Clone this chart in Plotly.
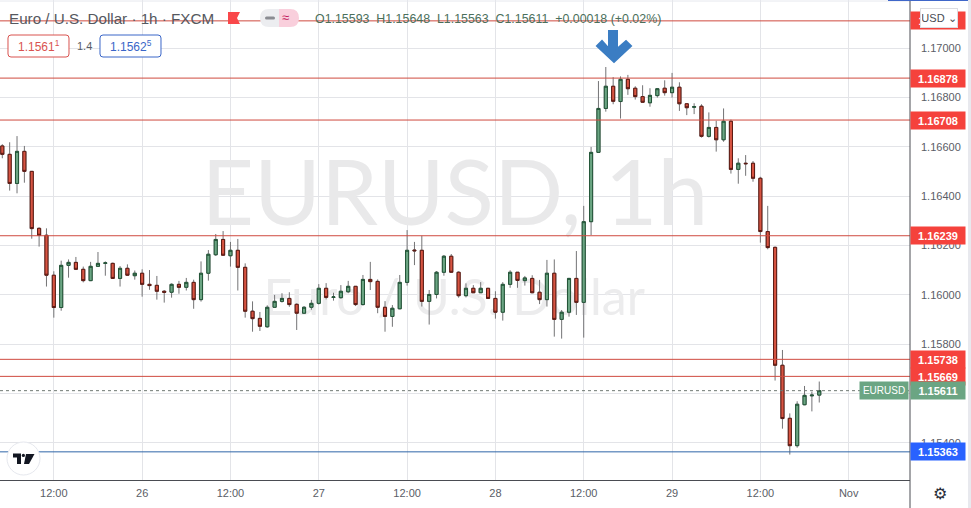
import plotly.graph_objects as go

# hourly EURUSD candles
opens = [
    1.16603, 1.16569, 1.16451, 1.16581, 1.16500, 1.16269, 1.16241, 1.16079, 1.15948, 1.16119,
    1.16131, 1.16103, 1.16057, 1.16115, 1.16127, 1.16127, 1.16066, 1.16107, 1.16077, 1.16087,
    1.16042, 1.16038, 1.16014, 1.16010, 1.16042, 1.16030, 1.16050, 1.15980, 1.16087, 1.16162,
    1.16224, 1.16158, 1.16180, 1.16111, 1.15933, 1.15904, 1.15870, 1.15949, 1.15973, 1.15985,
    1.15961, 1.15925, 1.15949, 1.15965, 1.16026, 1.15989, 1.15988, 1.16012, 1.16034, 1.15960,
    1.16062, 1.16054, 1.15949, 1.15912, 1.15943, 1.16050, 1.16181, 1.16180, 1.15973, 1.16001,
    1.16091, 1.16156, 1.16091, 1.15996, 1.16026, 1.16008, 1.16026, 1.15985, 1.15929, 1.16042,
    1.16091, 1.16057, 1.16066, 1.16010, 1.15980, 1.16087, 1.15900, 1.15929, 1.16066, 1.15969,
    1.16296, 1.16577, 1.16755, 1.16845, 1.16783, 1.16873, 1.16837, 1.16803, 1.16778, 1.16807,
    1.16837, 1.16819, 1.16841, 1.16774, 1.16760, 1.16764, 1.16642, 1.16678, 1.16628, 1.16703,
    1.16508, 1.16533, 1.16533, 1.16472, 1.16256, 1.16192, 1.15714, 1.15499, 1.15388, 1.15554,
    1.15590, 1.15593,
]
highs = [
    1.16610, 1.16618, 1.16643, 1.16603, 1.16500, 1.16273, 1.16269, 1.16095, 1.16138, 1.16143,
    1.16153, 1.16114, 1.16133, 1.16173, 1.16135, 1.16130, 1.16116, 1.16123, 1.16098, 1.16103,
    1.16100, 1.16076, 1.16019, 1.16046, 1.16056, 1.16068, 1.16061, 1.16135, 1.16181, 1.16246,
    1.16258, 1.16214, 1.16226, 1.16127, 1.15973, 1.15930, 1.15957, 1.15999, 1.16006, 1.16010,
    1.15965, 1.15954, 1.15979, 1.16043, 1.16047, 1.16008, 1.16039, 1.16056, 1.16035, 1.16080,
    1.16133, 1.16062, 1.15974, 1.15958, 1.16080, 1.16262, 1.16214, 1.16239, 1.16019, 1.16096,
    1.16161, 1.16165, 1.16095, 1.16046, 1.16039, 1.16051, 1.16027, 1.16014, 1.16051, 1.16099,
    1.16092, 1.16076, 1.16079, 1.16060, 1.16141, 1.16143, 1.15938, 1.16068, 1.16177, 1.16360,
    1.16599, 1.16866, 1.16923, 1.16882, 1.16885, 1.16891, 1.16845, 1.16849, 1.16837, 1.16838,
    1.16869, 1.16899, 1.16861, 1.16777, 1.16776, 1.16772, 1.16739, 1.16705, 1.16755, 1.16710,
    1.16553, 1.16566, 1.16542, 1.16478, 1.16360, 1.16195, 1.15776, 1.15519, 1.15568, 1.15630,
    1.15607, 1.15648,
]
lows = [
    1.16553, 1.16422, 1.16411, 1.16454, 1.16227, 1.16195, 1.16033, 1.15907, 1.15935, 1.16069,
    1.16100, 1.16050, 1.16055, 1.16114, 1.16077, 1.16065, 1.16033, 1.16076, 1.16061, 1.15992,
    1.16020, 1.15980, 1.15968, 1.15988, 1.16004, 1.16017, 1.15943, 1.15972, 1.16057, 1.16157,
    1.16157, 1.16114, 1.16017, 1.15907, 1.15850, 1.15853, 1.15866, 1.15948, 1.15968, 1.15951,
    1.15857, 1.15923, 1.15939, 1.15960, 1.15981, 1.15976, 1.15984, 1.16006, 1.15954, 1.15956,
    1.16019, 1.15925, 1.15850, 1.15870, 1.15941, 1.16037, 1.16120, 1.15952, 1.15879, 1.15985,
    1.16077, 1.16089, 1.15988, 1.15989, 1.16007, 1.16007, 1.15984, 1.15903, 1.15895, 1.16028,
    1.16028, 1.16037, 1.16006, 1.15962, 1.15952, 1.15830, 1.15822, 1.15911, 1.15918, 1.15826,
    1.16242, 1.16577, 1.16742, 1.16772, 1.16714, 1.16810, 1.16791, 1.16778, 1.16762, 1.16799,
    1.16807, 1.16799, 1.16745, 1.16728, 1.16732, 1.16637, 1.16637, 1.16580, 1.16620, 1.16491,
    1.16450, 1.16482, 1.16458, 1.16211, 1.16184, 1.15652, 1.15457, 1.15352, 1.15380, 1.15552,
    1.15527, 1.15563,
]
closes = [
    1.16569, 1.16451, 1.16581, 1.16500, 1.16268, 1.16241, 1.16079, 1.15948, 1.16119, 1.16131,
    1.16103, 1.16057, 1.16115, 1.16127, 1.16129, 1.16066, 1.16107, 1.16079, 1.16087, 1.16042,
    1.16037, 1.16014, 1.16010, 1.16042, 1.16030, 1.16050, 1.15980, 1.16087, 1.16164, 1.16224,
    1.16160, 1.16180, 1.16111, 1.15933, 1.15903, 1.15872, 1.15949, 1.15973, 1.15985, 1.15960,
    1.15925, 1.15949, 1.15965, 1.16026, 1.15989, 1.15991, 1.16014, 1.16034, 1.15960, 1.16062,
    1.16053, 1.15949, 1.15912, 1.15945, 1.16050, 1.16180, 1.16178, 1.15973, 1.16001, 1.16091,
    1.16156, 1.16091, 1.15996, 1.16026, 1.16008, 1.16026, 1.15985, 1.15929, 1.16042, 1.16091,
    1.16058, 1.16068, 1.16008, 1.15980, 1.16087, 1.15900, 1.15929, 1.16066, 1.15969, 1.16296,
    1.16577, 1.16755, 1.16845, 1.16784, 1.16873, 1.16835, 1.16803, 1.16780, 1.16808, 1.16835,
    1.16819, 1.16841, 1.16774, 1.16758, 1.16762, 1.16642, 1.16678, 1.16628, 1.16703, 1.16508,
    1.16533, 1.16531, 1.16472, 1.16256, 1.16191, 1.15714, 1.15498, 1.15388, 1.15556, 1.15592,
    1.15593, 1.15611,
]
bars = list(range(len(opens)))

time_tick_bars = [7, 19, 31, 43, 55, 67, 79, 91, 103, 115]
time_tick_labels = ["12:00", "26", "12:00", "27", "12:00", "28", "12:00", "29", "12:00", "Nov"]
price_ticks = [1.170, 1.168, 1.166, 1.164, 1.162, 1.160, 1.158, 1.156, 1.154]
# 1.15600 sits fully under the last price tag
price_tick_labels = ["1.17000", "1.16800", "1.16600", "1.16400", "1.16200", "1.16000", "1.15800", "", "1.15400"]

red_levels = [1.17110, 1.16878, 1.16708, 1.16239, 1.15738, 1.15669]
blue_level = 1.15363
last_price = 1.15611

W, H = 971, 508
PLOT_W, PLOT_H = 910, 480
BAR_RANGE = [-0.3125, 123.33]
PRICE_RANGE = [1.152489, 1.171946]
FONT = "Liberation Sans"
GREY_TEXT = "#5a5d66"


def px(x):
    return x / PLOT_W


def py(y):
    return 1 - y / PLOT_H


def path(points):
    return "M " + " L ".join(f"{px(x):.5f},{py(y):.5f}" for x, y in points) + " Z"


def round_box(x0, y0, x1, y1, r):
    return (
        f"M {px(x0 + r):.5f},{py(y0):.5f} L {px(x1 - r):.5f},{py(y0):.5f} "
        f"Q {px(x1):.5f},{py(y0):.5f} {px(x1):.5f},{py(y0 + r):.5f} "
        f"L {px(x1):.5f},{py(y1 - r):.5f} Q {px(x1):.5f},{py(y1):.5f} {px(x1 - r):.5f},{py(y1):.5f} "
        f"L {px(x0 + r):.5f},{py(y1):.5f} Q {px(x0):.5f},{py(y1):.5f} {px(x0):.5f},{py(y1 - r):.5f} "
        f"L {px(x0):.5f},{py(y0 + r):.5f} Q {px(x0):.5f},{py(y0):.5f} {px(x0 + r):.5f},{py(y0):.5f} Z"
    )


fig = go.Figure()

# watermark goes on the base axes so the candles (overlay axes) draw over it
fig.add_trace(go.Scatter(
    x=[61.5], y=[1.16375], text=["EURUSD, 1h"], mode="text", textposition="middle center",
    textfont=dict(family="Lato", size=91, color="#e9e9ea"), hoverinfo="skip", showlegend=False,
))
fig.add_trace(go.Scatter(
    x=[61.4], y=[1.15970], text=["Euro / U.S. Dollar"], mode="text", textposition="middle center",
    textfont=dict(family="Lato", size=50, color="#ececed"), hoverinfo="skip", showlegend=False,
))

# wicks first, then bodies on top because wick and border colours differ
fig.add_trace(go.Candlestick(
    x=bars, open=opens, high=highs, low=lows, close=closes, xaxis="x2", yaxis="y2",
    increasing=dict(line=dict(color="#737375", width=1), fillcolor="#6BA583"),
    decreasing=dict(line=dict(color="#737375", width=1), fillcolor="#D75442"),
    whiskerwidth=0, hoverinfo="skip", showlegend=False,
))
fig.add_trace(go.Candlestick(
    x=bars, open=opens, close=closes, xaxis="x2", yaxis="y2",
    high=[max(o, c) for o, c in zip(opens, closes)],
    low=[min(o, c) for o, c in zip(opens, closes)],
    increasing=dict(line=dict(color="#225437", width=1), fillcolor="#6BA583"),
    decreasing=dict(line=dict(color="#5B1A13", width=1), fillcolor="#D75442"),
    whiskerwidth=0, hoverinfo="skip", showlegend=False,
))

for level in red_levels:
    fig.add_hline(y=level, line=dict(color="#cf4a3f", width=1))
fig.add_hline(y=blue_level, line=dict(color="#2f66a8", width=1))
fig.add_hline(y=last_price, line=dict(color="#707a74", width=1, dash="dot"))

shapes = [
    # top edge of the pane and the axis line running down past the time scale
    dict(type="line", xref="paper", yref="paper", x0=0, x1=1, y0=py(1), y1=py(1),
         line=dict(color="#e6e8ee", width=1)),
    dict(type="line", xref="paper", yref="paper", x0=1, x1=1, y0=py(0), y1=py(H),
         line=dict(color="#4a4c52", width=1)),
    dict(type="line", xref="paper", yref="paper", x0=px(888), x1=px(968), y0=py(0.5), y1=py(0.5),
         line=dict(color="#3f67c9", width=1)),
    dict(type="rect", xref="paper", yref="paper", x0=px(968), x1=px(W), y0=py(0), y1=py(H),
         fillcolor="#e8e9ee", line=dict(width=0)),
    # big down arrow
    dict(type="path", xref="paper", yref="paper", fillcolor="#3b7dc3",
         line=dict(color="#3b7dc3", width=2),
         path=path([(609, 31), (617, 31), (617, 49), (626, 41), (631, 46), (614, 62), (597, 46), (602, 41), (609, 49)])),
    # flag and the status pill in the header
    dict(type="path", xref="paper", yref="paper", fillcolor="#f9474a", line=dict(width=0),
         path=path([(228, 12), (240, 12), (237, 18), (240, 24), (228, 24)])),
    dict(type="path", xref="paper", yref="paper", fillcolor="#ecedf0", line=dict(width=0),
         path=round_box(260, 9, 288, 27, 9)),
    dict(type="path", xref="paper", yref="paper", fillcolor="#f9cfdc", line=dict(width=0),
         path=round_box(271, 9, 299, 27, 9)),
    dict(type="rect", xref="paper", yref="paper", x0=px(271), x1=px(279), y0=py(9), y1=py(27),
         fillcolor="#ecedf0", line=dict(width=0)),
    dict(type="path", xref="paper", yref="paper", fillcolor="#8a8c92", line=dict(width=0),
         path=round_box(265, 16.5, 275, 19.5, 1.5)),
    # order boxes
    dict(type="path", xref="paper", yref="paper", fillcolor="white", line=dict(color="#d9534f", width=1),
         path=round_box(8, 35, 69, 57, 3)),
    dict(type="path", xref="paper", yref="paper", fillcolor="white", line=dict(color="#3a66c8", width=1),
         path=round_box(100, 35, 161, 57, 3)),
    # logo badge
    dict(type="circle", xref="paper", yref="paper", x0=px(7), x1=px(40), y0=py(442), y1=py(475),
         fillcolor="white", line=dict(color="#e6e8ee", width=1)),
    dict(type="path", xref="paper", yref="paper", fillcolor="#131722", line=dict(width=0),
         path=path([(13, 453.5), (21, 453.5), (21, 464), (17, 464), (17, 457.5), (13, 457.5)])),
    dict(type="path", xref="paper", yref="paper", fillcolor="#131722", line=dict(width=0),
         path=path([(26, 454), (34.5, 454), (29, 464), (24, 464)])),
    dict(type="circle", xref="paper", yref="paper", fillcolor="#131722", line=dict(width=0),
         x0=px(21.8), x1=px(25), y0=py(453.8), y1=py(457)),
]
for s in shapes:
    fig.add_shape(**s)

annotations = []


def label(x, y, text, size=12, color=GREY_TEXT, anchor="left", **kw):
    annotations.append(dict(
        xref="paper", yref="paper", x=px(x), y=py(y), text=text, showarrow=False,
        xanchor=anchor, yanchor="middle", font=dict(family=kw.pop("family", FONT), size=size, color=color), **kw))


def price_tag(price, text, color):
    annotations.append(dict(
        xref="paper", yref="y", x=1, y=price, text=f"<b>{text}</b>", showarrow=False,
        xanchor="left", yanchor="middle", width=52, height=15, bgcolor=color, borderpad=1,
        font=dict(family=FONT, size=11, color="white")))


label(7, 19, "Euro / U.S. Dollar · 1h · FXCM", size=15.2, color="#555860")
label(285, 18, "≈", size=13, color="#c2185b", anchor="center")
label(313, 19, "O1.15593  H1.15648  L1.15563  C1.15611  +0.00018 (+0.02%)", size=12.4, color="#4b6f5b")
label(38.5, 46, "1.1561<sup>1</sup>", size=12, color="#d9534f", anchor="center")
label(84.5, 46, "1.4", size=11, anchor="center")
label(130.5, 46, "1.1562<sup>5</sup>", size=12, color="#3a66c8", anchor="center")

for level in red_levels:
    price_tag(level, f"{level:.5f}", "#f5423c")
price_tag(blue_level, f"{blue_level:.5f}", "#2962ff")
price_tag(last_price, f"{last_price:.5f}", "#6ba583")

label(884, 390.5, "EURUSD", size=10, color="white", anchor="center",
      bgcolor="#6ba583", width=46, height=15, borderpad=1)
label(939, 18, "USD ⌄", size=11, color="#4a4c52", anchor="center",
      bgcolor="white", bordercolor="#dcdde2", borderwidth=1, width=34, height=16, borderpad=1)
label(940, 494, "⚙", size=16, color="#2a2e39", anchor="center", family="DejaVu Sans")

fig.update_layout(
    width=W, height=H,
    margin=dict(l=0, r=W - PLOT_W, t=0, b=H - PLOT_H),
    paper_bgcolor="white", plot_bgcolor="white",
    showlegend=False,
    dragmode=False,
    boxgap=0.4,
    annotations=annotations,
    font=dict(family=FONT, size=11, color=GREY_TEXT),
    xaxis=dict(
        range=BAR_RANGE, rangeslider=dict(visible=False),
        tickmode="array", tickvals=time_tick_bars, ticktext=time_tick_labels,
        showgrid=True, gridcolor="#e3e4e8", gridwidth=1, zeroline=False,
        showline=True, linecolor="#4a4c52", linewidth=1, ticks="", ticklabelstandoff=3,
        tickfont=dict(family=FONT, size=11, color=GREY_TEXT),
    ),
    yaxis=dict(
        side="right", range=PRICE_RANGE,
        tickmode="array", tickvals=price_ticks, ticktext=price_tick_labels,
        showgrid=True, gridcolor="#e3e4e8", gridwidth=1, zeroline=False,
        showline=False, ticks="", ticklabelstandoff=10,
        tickfont=dict(family=FONT, size=11, color=GREY_TEXT),
    ),
    xaxis2=dict(overlaying="x", range=BAR_RANGE, visible=False, rangeslider=dict(visible=False)),
    yaxis2=dict(overlaying="y", range=PRICE_RANGE, visible=False),
)

# the browser's default body margin would shift the whole chart by 8px
fig.write_html("out.html", config=dict(displayModeBar=False),
               post_script="document.body.style.margin = '0';")
